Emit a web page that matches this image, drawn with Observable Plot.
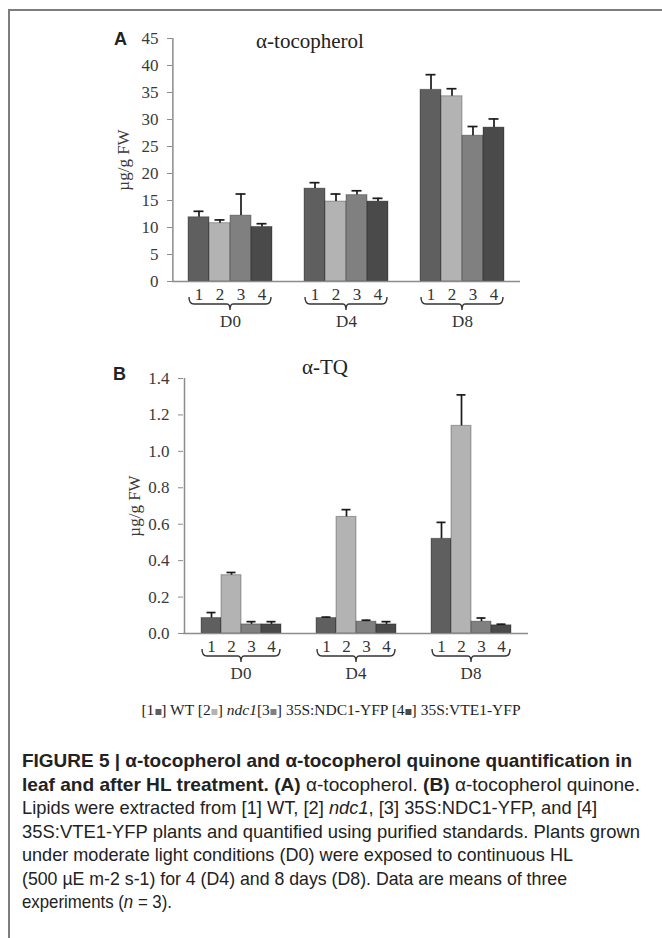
<!DOCTYPE html>
<html><head><meta charset="utf-8">
<script src="https://cdn.jsdelivr.net/npm/d3@7"></script>
<script src="https://cdn.jsdelivr.net/npm/@observablehq/plot@0.6"></script>
<style>
body{margin:0;background:#fff;}
#page{position:relative;width:662px;height:938px;overflow:hidden;font-family:"Liberation Serif","Times New Roman",serif;color:#222;}
.frameTop{position:absolute;left:8px;top:9px;width:654px;height:2px;background:#7d7d7d;}
.frameLeft{position:absolute;left:8px;top:9px;width:2px;height:929px;background:#7d7d7d;}
.panel{position:absolute;left:0;}
.letter{position:absolute;font-family:"Liberation Sans",Arial,sans-serif;font-weight:bold;font-size:18px;line-height:18px;}
.title{position:absolute;font-size:21px;line-height:21px;transform:translateX(-50%);white-space:nowrap;color:#222;}
.legend{position:absolute;left:331px;top:701px;transform:translateX(-50%);white-space:nowrap;font-size:15.5px;color:#222;}
.sq{display:inline-block;width:6px;height:6px;margin-left:1px;vertical-align:baseline;}
.caption{position:absolute;left:22px;top:749px;font-family:"Liberation Sans",Arial,sans-serif;font-size:18.5px;line-height:23.5px;color:#222;white-space:nowrap;}
.caption div{transform-origin:0 50%;width:max-content;}
.caption b{font-weight:bold;}
</style>
</head><body>
<div id="page">
  <div class="frameTop"></div>
  <div class="frameLeft"></div>
  <div class="letter" style="left:114px;top:30px">A</div>
  <div class="title" style="left:310px;top:31px">α-tocopherol</div>
  <div id="panelA" class="panel" style="top:0px"></div>
  <div class="letter" style="left:113px;top:365px">B</div>
  <div class="title" style="left:325px;top:357px">α-TQ</div>
  <div id="panelB" class="panel" style="top:340px"></div>
  <div class="legend">[1<span class="sq" style="background:#5f5f5f"></span>] WT [2<span class="sq" style="background:#b3b3b3"></span>] <i>ndc1</i>[3<span class="sq" style="background:#808080"></span>] 35S:NDC1-YFP [4<span class="sq" style="background:#4a4a4a"></span>] 35S:VTE1-YFP</div>
  <div class="caption" id="caption">
    <div data-w="610"><b>FIGURE 5 | α-tocopherol and α-tocopherol quinone quantification in</b></div>
    <div data-w="618"><b>leaf and after HL treatment. (A)</b> α-tocopherol. <b>(B)</b> α-tocopherol quinone.</div>
    <div data-w="575">Lipids were extracted from [1] WT, [2] <i>ndc1</i>, [3] 35S:NDC1-YFP, and [4]</div>
    <div data-w="618">35S:VTE1-YFP plants and quantified using purified standards. Plants grown</div>
    <div data-w="551">under moderate light conditions (D0) were exposed to continuous HL</div>
    <div data-w="545">(500 µE m-2 s-1) for 4 (D4) and 8 days (D8). Data are means of three</div>
    <div data-w="150">experiments (<i>n</i> = 3).</div>
  </div>
</div>
<script>
// ---- data ----
const days = ["D0", "D4", "D8"];
const genotypes = ["1", "2", "3", "4"];
const barColors = ["#5f5f5f", "#b3b3b3", "#808080", "#4a4a4a"];

// α-tocopherol (µg/g FW): means per day (rows) × genotype (cols)
const tocoMean = [
  [11.9, 10.8, 12.2, 10.1],
  [17.2, 14.8, 16.0, 14.8],
  [35.5, 34.3, 27.0, 28.5]
];
const tocoErr = [
  [1.1, 0.6, 4.0, 0.6],
  [1.1, 1.4, 0.8, 0.6],
  [2.8, 1.4, 1.7, 1.6]
];
const tocoTicks = [0, 5, 10, 15, 20, 25, 30, 35, 40, 45];

// α-TQ (µg/g FW)
const tqMean = [
  [0.085, 0.32, 0.05, 0.05],
  [0.085, 0.64, 0.065, 0.05],
  [0.52, 1.14, 0.065, 0.045]
];
const tqErr = [
  [0.03, 0.015, 0.015, 0.015],
  [0.005, 0.04, 0.008, 0.015],
  [0.09, 0.17, 0.02, 0.006]
];
const tqTicks = [0, 0.2, 0.4, 0.6, 0.8, 1.0, 1.2, 1.4];

const yLabel = "µg/g FW";
const serif = "'Liberation Serif','Times New Roman',serif";

function makePanel({means, errs, ticks, fmt, marginLeft, marginRight, marginTop, marginBottom, height, xPadOuter}) {
  const rows = [];
  days.forEach((d, i) => genotypes.forEach((g, j) => rows.push({day: d, g, mean: means[i][j], upper: means[i][j] + errs[i][j]})));
  const yMax = ticks[ticks.length - 1];
  const facetW = (662 - marginLeft - marginRight) / days.length;
  const step = facetW / (genotypes.length + 2 * xPadOuter);
  const outerPx = step * xPadOuter;

  // curly brace under each group, positioned with the facet's own x and y scales
  function brace(index, scales) {
    const x = scales.x, y = scales.y;
    const bw = typeof x.bandwidth === "function" ? x.bandwidth() : scales.scales.x.bandwidth;
    const y0 = y(0);
    const bx1 = x(genotypes[0]) + 1, bx2 = x(genotypes[genotypes.length - 1]) + bw - 1;
    const bm = (bx1 + bx2) / 2, by = y0 + 23;
    const p = `M${bx1},${by - 7} Q${bx1},${by} ${bx1 + 5},${by} L${bm - 3},${by} Q${bm},${by} ${bm},${by + 6} Q${bm},${by} ${bm + 3},${by} L${bx2 - 5},${by} Q${bx2},${by} ${bx2},${by - 7}`;
    const path = document.createElementNS("http://www.w3.org/2000/svg", "path");
    path.setAttribute("d", p);
    path.setAttribute("fill", "none");
    path.setAttribute("stroke", "#333");
    path.setAttribute("stroke-width", "1.4");
    return path;
  }

  return Plot.plot({
    width: 662, height, marginLeft, marginRight, marginTop, marginBottom,
    style: {fontFamily: serif, fontSize: "17px", background: "transparent", color: "#333"},
    fx: {domain: days, padding: 0, label: null, axis: null},
    x: {domain: genotypes, paddingInner: 0, paddingOuter: xPadOuter, label: null, axis: null},
    y: {domain: [0, yMax], label: null, axis: null},
    color: {domain: genotypes, range: barColors},
    marks: [
      Plot.barY(rows, {fx: "day", x: "g", y: "mean", fill: "g", stroke: "#000", strokeOpacity: 0.3, strokeWidth: 1}),
      Plot.ruleX(rows, {fx: "day", x: "g", y1: "mean", y2: "upper", stroke: "#1a1a1a", strokeWidth: 1.7}),
      Plot.tickY(rows, {fx: "day", x: "g", y: "upper", stroke: "#1a1a1a", strokeWidth: 1.7, insetLeft: 5.5, insetRight: 5.5}),
      Plot.ruleY([0], {stroke: "#8c8c8c", strokeWidth: 1.5}),
      Plot.ruleX(rows.filter((r) => r.day === days[0] && r.g === genotypes[0]),
        {fx: "day", x: "g", y1: 0, y2: yMax, dx: -(outerPx + step / 2), stroke: "#8c8c8c", strokeWidth: 1.5}),
      Plot.axisY({ticks, tickFormat: fmt, tickSize: 5, tickPadding: 9, stroke: "#8c8c8c", fill: "#3a3a3a", fontSize: 17,
        label: yLabel, labelAnchor: "center", labelArrow: "none", labelOffset: 56}),
      Plot.axisX({tickSize: 0, tickPadding: 6, fill: "#333", fontSize: 17}),
      Plot.axisFx({anchor: "bottom", tickSize: 0, tickPadding: 33, fill: "#333", fontSize: 17}),
      Plot.ruleY(days.map((d) => ({day: d, v: 0})), {fx: "day", y: "v", render: brace})
    ]
  });
}

document.getElementById("panelA").append(makePanel({
  means: tocoMean, errs: tocoErr, ticks: tocoTicks, fmt: (d) => String(d),
  marginLeft: 172, marginRight: 142, marginTop: 38, marginBottom: 59, height: 340, xPadOuter: 0.73
}));
document.getElementById("panelB").append(makePanel({
  means: tqMean, errs: tqErr, ticks: tqTicks, fmt: (d) => d.toFixed(1),
  marginLeft: 182, marginRight: 134, marginTop: 38, marginBottom: 57, height: 350, xPadOuter: 0.82
}));

// fit each caption line to the reference line length
for (const line of document.querySelectorAll("#caption div")) {
  const w = line.getBoundingClientRect().width;
  line.style.transform = `scaleX(${(+line.dataset.w) / w})`;
}
</script>
</body></html>
